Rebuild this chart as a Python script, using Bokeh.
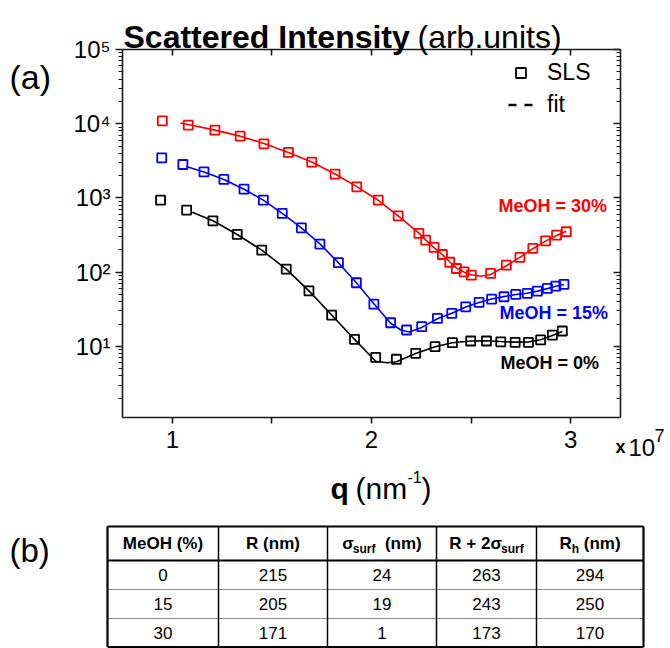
from bokeh.plotting import figure
from bokeh.models import (Range1d, LinearAxis, LogAxis, FixedTicker, ColumnDataSource,
                          Legend, LegendItem, CustomJSTickFormatter)
from bokeh.embed import file_html
from bokeh.resources import INLINE
from bokeh.core.properties import value

# ---------------- data (q in units of 1e7 nm^-1) ----------------
q_30 = [0.95, 1.08, 1.214, 1.341, 1.46, 1.583, 1.70, 1.817, 1.926, 2.034, 2.134, 2.238, 2.272,
        2.314, 2.356, 2.393, 2.426, 2.465, 2.501, 2.598, 2.677, 2.745, 2.81, 2.874, 2.929, 2.978]
I_30 = [10900, 9550, 8190, 6800, 5360, 4100, 3030, 2090, 1410, 933, 574, 333, 270,
        215, 173, 136, 112, 101, 91, 96, 124, 158, 209, 264, 315, 350]
fit_q_30 = [1.04, 1.08, 1.214, 1.341, 1.46, 1.583, 1.70, 1.817, 1.926, 2.034, 2.134, 2.238, 2.272,
            2.314, 2.356, 2.393, 2.426, 2.465, 2.501, 2.55, 2.598, 2.677, 2.745, 2.81, 2.874, 2.929, 2.978]
fit_I_30 = [10200, 9750, 8200, 6800, 5400, 4100, 3050, 2100, 1420, 930, 575, 335, 272,
            214, 172, 137, 114, 100, 92, 88, 93, 122, 158, 207, 262, 312, 355]

q_15 = [0.947, 1.053, 1.159, 1.259, 1.36, 1.457, 1.552, 1.648, 1.741, 1.834, 1.924, 2.012, 2.096,
        2.176, 2.252, 2.331, 2.403, 2.473, 2.54, 2.603, 2.665, 2.724, 2.782, 2.833, 2.883, 2.925, 2.966]
I_15 = [3470, 2820, 2250, 1775, 1313, 933, 618, 395, 239, 134, 72, 37, 20.8,
        16.6, 18.4, 23.8, 27.8, 34.1, 39.2, 43.4, 46.6, 50.1, 51.7, 55.6, 60.4, 64.9, 68.4]
fit_q_15 = [1.07, 1.159, 1.259, 1.36, 1.457, 1.552, 1.648, 1.741, 1.834, 1.924, 2.012, 2.096, 2.15,
            2.19, 2.252, 2.331, 2.403, 2.473, 2.54, 2.603, 2.665, 2.724, 2.782, 2.833, 2.883, 2.925, 2.966]
fit_I_15 = [2650, 2230, 1770, 1310, 935, 620, 395, 240, 134, 72, 37.5, 20.5, 16.5,
            15.6, 18.0, 23.5, 28, 34, 39, 43.5, 46.8, 50, 52, 55.5, 60, 64.5, 68]

q_0 = [0.941, 1.072, 1.204, 1.326, 1.449, 1.572, 1.686, 1.8, 1.915, 2.021, 2.125, 2.222,
       2.319, 2.406, 2.498, 2.577, 2.649, 2.721, 2.788, 2.849, 2.908, 2.958]
I_0 = [933, 685, 492, 322, 198, 110, 56, 26.4, 12.4, 7.1, 6.7, 8.05,
       9.9, 11.2, 11.8, 11.8, 11.5, 11.3, 11.3, 12.2, 14.2, 16.1]
fit_q_0 = [1.10, 1.204, 1.326, 1.449, 1.572, 1.686, 1.8, 1.915, 2.021, 2.08, 2.125, 2.222,
           2.319, 2.406, 2.498, 2.577, 2.649, 2.721, 2.788, 2.849, 2.908, 2.958]
fit_I_0 = [640, 492, 322, 198, 110, 56, 26.4, 12.4, 6.3, 6.0, 6.2, 8.0,
           9.9, 11.2, 11.8, 11.9, 11.6, 11.4, 11.5, 12.3, 14.0, 15.8]

series_names = ["MeOH = 30%", "MeOH = 15%", "MeOH = 0%"]
series_colors = ["#ff0000", "#0000ff", "#000000"]

x_ticks = [1, 1.5, 2, 2.5, 3]
y_ticks = [1e1, 1e2, 1e3, 1e4, 1e5]

table_header = ["MeOH (%)", "R (nm)", "σsurf (nm)", "R + 2σsurf", "Rh (nm)"]
table_meoh = ["0", "15", "30"]
table_R = ["215", "205", "171"]
table_sigma = ["24", "19", "1"]
table_R2s = ["263", "243", "173"]
table_Rh = ["294", "250", "170"]

# ---------------- layout constants (page pixels) ----------------
FONT = "Liberation Sans"
W, H = 670, 648
FL, FR, FT, FH = 122, 50, 49, 368
H1 = 470
FB = H1 - FT - FH

p = figure(width=W, height=H1, output_backend="svg", toolbar_location=None,
           x_range=Range1d(0.75, 3.25), y_range=Range1d(1.1, 1e5), y_axis_type="log",
           min_border_left=FL, min_border_right=FR, min_border_top=FT, min_border_bottom=FB,
           background_fill_color="white", border_fill_color="white", outline_line_color=None)
p.grid.visible = False

AX = "#1a1a1a"
minor_y = [m * 10.0 ** k for k in range(0, 5) for m in range(2, 10)]


def style(ax):
    ax.axis_line_color = AX
    ax.axis_line_width = 1.6
    ax.major_tick_line_color = AX
    ax.major_tick_line_width = 1.6
    ax.minor_tick_line_color = AX
    ax.minor_tick_line_width = 1.2


blank = CustomJSTickFormatter(code="return ''")
pow10 = CustomJSTickFormatter(code="""
const sup = {'0':'\u2070','1':'\u00b9','2':'\u00b2','3':'\u00b3','4':'\u2074',
             '5':'\u2075','6':'\u2076','7':'\u2077','8':'\u2078','9':'\u2079','-':'\u207b'};
const e = Math.round(Math.log10(tick));
return '10' + String(e).split('').map(c => sup[c]).join('');
""")

xa = p.xaxis[0]
xa.ticker = FixedTicker(ticks=x_ticks, minor_ticks=[])
xa.formatter = CustomJSTickFormatter(code="return (tick % 1 === 0) ? tick.toFixed(0) : ''")
xa.major_label_text_font = FONT
xa.major_label_text_font_size = "24px"
xa.major_label_text_color = "black"
xa.major_tick_out = 6
xa.major_tick_in = 0
xa.minor_tick_out = 0
xa.minor_tick_in = 0
xa.major_label_standoff = 7
style(xa)

ya = p.yaxis[0]
ya.ticker = FixedTicker(ticks=y_ticks, minor_ticks=minor_y)
ya.formatter = pow10
ya.major_label_text_font = FONT
ya.major_label_text_font_size = "24px"
ya.major_label_text_color = "black"
ya.major_tick_out = 7
ya.major_tick_in = 0
ya.minor_tick_out = 4
ya.minor_tick_in = 0
ya.major_label_standoff = 5
style(ya)

top = LinearAxis(ticker=FixedTicker(ticks=x_ticks, minor_ticks=[]), formatter=blank,
                 major_tick_in=6, major_tick_out=0, minor_tick_in=0, minor_tick_out=0)
style(top)
p.add_layout(top, "above")

right = LogAxis(ticker=FixedTicker(ticks=y_ticks, minor_ticks=minor_y), formatter=blank,
                major_tick_in=7, major_tick_out=0, minor_tick_in=4, minor_tick_out=0)
style(right)
p.add_layout(right, "right")

# ---------------- data marks ----------------
marks = {}
for key, q, I, fq, fI, c in [("0", q_0, I_0, fit_q_0, fit_I_0, series_colors[2]),
                             ("15", q_15, I_15, fit_q_15, fit_I_15, series_colors[1]),
                             ("30", q_30, I_30, fit_q_30, fit_I_30, series_colors[0])]:
    p.line(fq, fI, line_color=c, line_width=1.6)
    marks[key] = p.scatter(q, I, marker="square", size=9, line_color=c, line_width=1.8,
                           fill_color=None)

# ---------------- legend ----------------
nan = float("nan")
r_fit = p.line(x=[nan, nan], y=[nan, nan], line_color="black", line_width=2.5, line_dash="8 8")
legend = Legend(items=[LegendItem(label="SLS", renderers=[marks["0"]]),
                       LegendItem(label="fit", renderers=[r_fit])],
                location=(508 - FL, (FT + FH) - 118), glyph_width=25, glyph_height=25,
                label_height=25, label_standoff=14, spacing=5, padding=0, margin=0,
                border_line_color=None, background_fill_color=None,
                label_text_font=FONT, label_text_font_size="23px", label_text_color="black")
p.add_layout(legend)

# ---------------- overlay for free texts and the table (page pixel units) ----------------
o = figure(width=W, height=H, output_backend="svg", toolbar_location=None,
           x_range=Range1d(0, W), y_range=Range1d(H, 0), min_border=0,
           x_axis_location=None, y_axis_location=None, outline_line_color=None,
           background_fill_color=None, border_fill_color=None,
           styles={"position": "absolute", "left": "0px", "top": "0px"})
o.grid.visible = False


def txt(x, y, s, size, bold=False, color="black", align="left", baseline="alphabetic"):
    o.text(x=[x], y=[y], text=[s], text_font=value(FONT), text_font_size=f"{size}px",
           text_font_style="bold" if bold else "normal", text_color=color,
           text_align=align, text_baseline=baseline)


# title
txt(123, 36, "Scattered Intensity", 32, bold=True)
txt(417, 36, "(arb.units)", 32)
txt(9, 76, "(a)", 34)
# x axis label
txt(330, 488, "q", 30, bold=True)
txt(355, 488, "(nm", 30)
txt(407, 476, "-1", 16)
txt(421, 488, ")", 30)
# x multiplier
txt(615, 446, "x", 18, bold=True)
txt(628, 447, "10", 24)
txt(654, 435, "7", 18)
# series labels
for name, c, (px, py) in zip(series_names, series_colors, [(498, 205), (499, 312), (500, 362)]):
    txt(px, py, name, 18, bold=True, color=c, baseline="middle")

# table (b)
txt(9, 550, "(b)", 33)
col_edges = [107, 218, 327, 436, 536, 643]
row_edges = [526, 560, 589, 618, 646.5]
col_centers = [(a + b) / 2 for a, b in zip(col_edges[:-1], col_edges[1:])]
row_centers = [(a + b) / 2 for a, b in zip(row_edges[:-1], row_edges[1:])]

o.segment(x0=[col_edges[0]] * len(row_edges), x1=[col_edges[-1]] * len(row_edges),
          y0=row_edges, y1=row_edges,
          line_color=["black", "black", "#8c8c8c", "#8c8c8c", "black"],
          line_width=[2.2, 2.0, 1.0, 1.0, 2.2])
o.segment(x0=col_edges, x1=col_edges, y0=[row_edges[0]] * len(col_edges),
          y1=[row_edges[-1]] * len(col_edges), line_color="black",
          line_width=[2.2, 1.5, 1.5, 1.5, 1.5, 2.2])

ARIAL_B = {' ': .278, '(': .333, ')': .333, '%': .889, 'M': .833, 'e': .556, 'O': .778,
           'H': .722, 'R': .722, 'n': .611, 'm': .889, 'σ': .62, 's': .556, 'u': .611,
           'r': .389, 'f': .333, '+': .584, '2': .556, 'h': .611}


def twidth(s, size):
    return sum(ARIAL_B.get(ch, .556) for ch in s) * size


def header(cx, cy, pieces):
    # pieces: (text, font size, vertical shift, gap before in em of the main size)
    total = sum(twidth(s, sz) + gap for s, sz, dy, gap in pieces)
    x = cx - total / 2
    for s, sz, dy, gap in pieces:
        x += gap
        txt(x, cy + dy, s, sz, bold=True, baseline="middle")
        x += twidth(s, sz)


hy = row_centers[0]
HS, SS = 17, 12
SP = 0.278 * HS
header(col_centers[0], hy, [(table_header[0], HS, 0, 0)])
header(col_centers[1], hy, [(table_header[1], HS, 0, 0)])
header(col_centers[2], hy, [("σ", HS, 0, 0), ("surf", SS, 5, 0), ("(nm)", HS, 0, 2 * SP)])
header(col_centers[3], hy, [("R + 2σ", HS, 0, 0), ("surf", SS, 5, 0)])
header(col_centers[4], hy, [("R", HS, 0, 0), ("h", SS, 5, 0), ("(nm)", HS, 0, SP)])

for ci, col in enumerate([table_meoh, table_R, table_sigma, table_R2s, table_Rh]):
    src = ColumnDataSource(dict(x=[col_centers[ci]] * len(col), y=row_centers[1:], s=col))
    o.text(x="x", y="y", text="s", source=src, text_font=value(FONT), text_font_size="17px",
           text_align="center", text_baseline="middle", text_color="black")

open("out.html", "w").write(file_html([p, o], INLINE))
